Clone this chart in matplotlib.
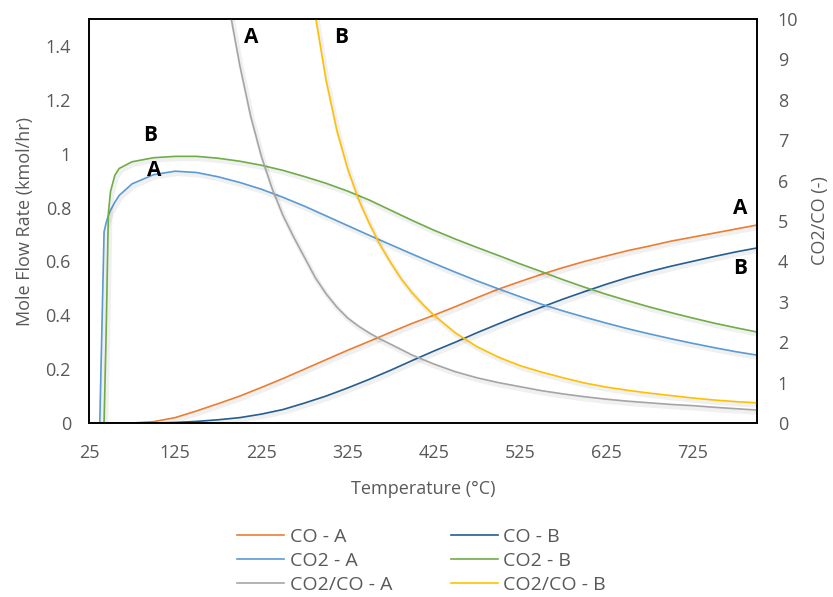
import matplotlib
matplotlib.use("Agg")
import matplotlib.pyplot as plt
import matplotlib.patheffects as pe
from matplotlib.ticker import FixedLocator, FuncFormatter

plt.rcParams['font.family'] = ['Open Sans', 'DejaVu Sans']

# ---------------- data ----------------
temp_flow = [25, 30, 35, 37.5, 42.5, 45, 47.5, 50, 55, 60, 75, 100, 125, 150, 175,
             200, 225, 250, 275, 300, 325, 350, 375, 400, 425, 450, 475, 500, 525,
             550, 575, 600, 625, 650, 675, 700, 725, 750, 775, 800]

co_a = [0, 0, 0, 0, 0, 0, 0, 0, 0, 0, 0, 0.005, 0.02, 0.045, 0.072,
        0.10, 0.132, 0.165, 0.20, 0.235, 0.27, 0.303, 0.337, 0.37, 0.40, 0.432, 0.465, 0.497, 0.525,
        0.552, 0.577, 0.60, 0.62, 0.64, 0.657, 0.675, 0.69, 0.705, 0.72, 0.735]

co_b = [0, 0, 0, 0, 0, 0, 0, 0, 0, 0, 0, 0, 0.002, 0.006, 0.012,
        0.02, 0.033, 0.05, 0.074, 0.10, 0.13, 0.162, 0.196, 0.232, 0.267, 0.30, 0.335, 0.368, 0.40,
        0.43, 0.46, 0.488, 0.515, 0.54, 0.562, 0.582, 0.60, 0.618, 0.635, 0.65]

co2_a = [0, 0, 0, 0, 0.71, 0.745, 0.77, 0.79, 0.82, 0.845, 0.888, 0.922, 0.935, 0.93, 0.914,
         0.893, 0.868, 0.838, 0.805, 0.769, 0.733, 0.697, 0.662, 0.627, 0.593, 0.56, 0.528, 0.498, 0.469,
         0.441, 0.416, 0.393, 0.371, 0.35, 0.331, 0.313, 0.296, 0.28, 0.265, 0.252]

co2_b = [0, 0, 0, 0, 0, 0.35, 0.78, 0.86, 0.92, 0.945, 0.97, 0.985, 0.99, 0.99, 0.983,
         0.972, 0.957, 0.938, 0.915, 0.89, 0.861, 0.828, 0.79, 0.752, 0.716, 0.683, 0.652, 0.622, 0.591,
         0.562, 0.532, 0.504, 0.478, 0.454, 0.431, 0.41, 0.39, 0.371, 0.354, 0.338]

temp_ratio_a = [175, 187.5, 200, 212.5, 225, 237.5, 250, 262.5, 275, 287.5, 300, 312.5, 325,
                337.5, 350, 362.5, 375, 400, 425, 450, 475, 500, 525, 550, 575, 600, 625, 650,
                675, 700, 725, 750, 775, 800]
ratio_a = [12.0, 10.3, 8.85, 7.6, 6.6, 5.8, 5.14, 4.6, 4.1, 3.6, 3.2, 2.87, 2.6,
           2.4, 2.23, 2.08, 1.95, 1.68, 1.46, 1.27, 1.12, 1.0, 0.9, 0.8, 0.72, 0.65, 0.59, 0.54,
           0.5, 0.46, 0.43, 0.39, 0.355, 0.32]

temp_ratio_b = [275, 287.5, 300, 312.5, 325, 337.5, 350, 362.5, 375, 387.5, 400, 412.5, 425,
                450, 475, 500, 525, 550, 575, 600, 625, 650, 675, 700, 725, 750, 775, 800]
ratio_b = [11.9, 10.1, 8.5, 7.25, 6.3, 5.55, 4.95, 4.42, 3.97, 3.56, 3.22, 2.93, 2.67,
           2.23, 1.89, 1.63, 1.42, 1.26, 1.12, 0.99, 0.89, 0.81, 0.74, 0.68, 0.62, 0.57, 0.53, 0.50]

x_ticks = [25, 125, 225, 325, 425, 525, 625, 725]
left_ticks = [0, 0.2, 0.4, 0.6, 0.8, 1.0, 1.2, 1.4]
right_ticks = list(range(0, 11))

# ---------------- plot ----------------
W, H = 833, 597
fig = plt.figure(figsize=(W / 100, H / 100), dpi=100)
ax = fig.add_axes([89 / W, 1 - 423 / H, (757 - 89) / W, (423 - 19) / H])
ax2 = ax.twinx()

txt = '#595959'
lw = 1.2
shadow = [pe.SimpleLineShadow(offset=(1.2, -1.8), shadow_color='#000000', alpha=0.06, linewidth=3.5),
          pe.Normal()]
l1, = ax.plot(temp_flow, co_a, color='#ED7D31', lw=lw, label='CO - A', path_effects=shadow)
l2, = ax.plot(temp_flow, co_b, color='#255E91', lw=lw, label='CO - B', path_effects=shadow)
l3, = ax.plot(temp_flow, co2_a, color='#5B9BD5', lw=lw, label='CO2 - A', path_effects=shadow)
l4, = ax.plot(temp_flow, co2_b, color='#70AD47', lw=lw, label='CO2 - B', path_effects=shadow)
l5, = ax2.plot(temp_ratio_a, ratio_a, color='#A5A5A5', lw=lw, label='CO2/CO - A', path_effects=shadow)
l6, = ax2.plot(temp_ratio_b, ratio_b, color='#FFC000', lw=lw, label='CO2/CO - B', path_effects=shadow)

ax.set_xlim(25, 800)
ax.set_ylim(0, 1.5)
ax2.set_ylim(0, 10)

ax.xaxis.set_major_locator(FixedLocator(x_ticks))
ax.yaxis.set_major_locator(FixedLocator(left_ticks))
ax2.yaxis.set_major_locator(FixedLocator(right_ticks))
ax.yaxis.set_major_formatter(FuncFormatter(lambda v, p: f"{v:g}"))
ax2.yaxis.set_major_formatter(FuncFormatter(lambda v, p: f"{v:g}"))

fs = 13
for a in (ax, ax2):
    a.tick_params(length=0, labelsize=fs, colors=txt)
    for s in a.spines.values():
        s.set_color('black')
        s.set_linewidth(1.2)
ax.tick_params(axis='x', pad=15)
ax.tick_params(axis='y', pad=13)
ax2.tick_params(axis='y', pad=15)

ax.set_xlabel('Temperature (°C)', fontsize=fs, color=txt, labelpad=13)
ax.set_ylabel('Mole Flow Rate (kmol/hr)', fontsize=fs, color=txt, labelpad=8)
ax2.set_ylabel('CO2/CO (-)', fontsize=fs, color=txt, rotation=90, labelpad=9)

# curve annotations
ann = dict(fontsize=15, fontweight='bold', color='black', ha='center', va='center')
ax.text(213, 1.43, 'A', **ann)
ax.text(317, 1.43, 'B', **ann)
ax.text(96, 1.068, 'B', **ann)
ax.text(101, 0.938, 'A', **ann)
ax.text(780, 0.796, 'A', **ann)
ax.text(780, 0.573, 'B', **ann)

handles = [l1, l3, l5, l2, l4, l6]
leg = fig.legend(handles=handles, labels=[h.get_label() for h in handles],
                 ncol=2, loc='center', bbox_to_anchor=(0.506, 1 - 561 / H),
                 frameon=False, fontsize=14, handlelength=2.42, handletextpad=0.28,
                 columnspacing=3.0, labelspacing=0.3)
for t in leg.get_texts():
    t.set_color(txt)
for h in leg.legend_handles:
    h.set_path_effects([])

fig.savefig('out.png', dpi=100)
